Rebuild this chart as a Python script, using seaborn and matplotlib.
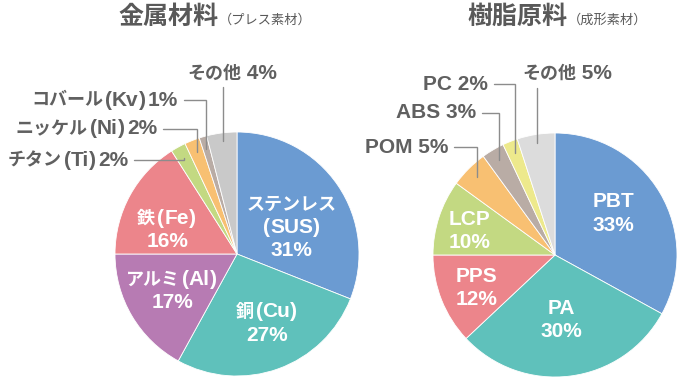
import matplotlib
matplotlib.use('Agg')
from matplotlib import pyplot as plt
from matplotlib.offsetbox import TextArea, HPacker, VPacker, AnnotationBbox, DrawingArea
import seaborn as sns
import numpy as np

sns.set_theme(style='white')
plt.rcParams['font.family'] = ['Noto Sans CJK JP', 'DejaVu Sans']

# 金属材料（プレス素材）
metal_names = ['ステンレス\n(SUS)', '銅(Cu)', 'アルミ(Al)', '鉄(Fe)',
               'チタン(Ti)', 'ニッケル(Ni)', 'コバール(Kv)', 'その他']
metal_values = [31, 27, 17, 16, 2, 2, 1, 4]
metal_colors = ['#6b9bd2', '#5fc1bb', '#b77bb3', '#ec858b',
                '#c3d982', '#f8c072', '#b9aca5', '#c9c9c9']

# 樹脂原料（成形素材）
resin_names = ['PBT', 'PA', 'PPS', 'LCP', 'POM', 'ABS', 'PC', 'その他']
resin_values = [33, 30, 12, 10, 5, 3, 2, 5]
resin_colors = ['#6b9bd2', '#5fc1bb', '#ec858b', '#c3d982',
                '#f8c072', '#b9aca5', '#ede98c', '#dcdcdc']

# label layout in pie units (radius = 1)
metal_inner_pos = [(0.45, 0.22), (0.25, -0.57), (-0.53, -0.30), (-0.57, 0.20)]
metal_outer_pos = [(-0.893, 0.77), (-0.655, 1.025), (-0.483, 1.262)]
metal_other_pos = (-0.04, 1.48)
resin_inner_pos = [(0.48, 0.34), (0.05, -0.53), (-0.64, -0.27), (-0.70, 0.20)]
resin_outer_pos = [(-0.877, 0.885), (-0.648, 1.164), (-0.549, 1.40)]
resin_other_pos = (0.098, 1.49)

W, H = 680, 377
fig = plt.figure(figsize=(W / 100, H / 100), dpi=100)

text_gray = '#606060'
line_gray = '#8c8c8c'


def rich_text(ax, s, xy, color, align=(0.5, 0.5)):
    # japanese glyphs a bit smaller than the latin ones, like the original
    lines = []
    for line in s.split('\n'):
        kids = []
        buf, kind = '', None
        chunks = []
        for ch in line:
            k = 'p' if ch in '()' else ('j' if ord(ch) >= 0x3000 else 'l')
            if k == kind and k != 'p':
                buf += ch
            else:
                if buf:
                    chunks.append((kind, buf))
                buf, kind = ch, k
        if buf:
            chunks.append((kind, buf))
        for k, t in chunks:
            if k == 'j':
                props = dict(fontsize=13, fontweight='bold', color=color, family='Noto Sans CJK JP')
            else:
                props = dict(fontsize=15, fontweight='bold', color=color, family='Liberation Sans')
            if t == '(':
                kids.append(DrawingArea(1.5, 1))
            kids.append(TextArea(t, textprops=props))
            if t == ')':
                kids.append(DrawingArea(1.5, 1))
        lines.append(HPacker(children=kids, align='baseline', pad=0, sep=0))
    box = VPacker(children=lines, align='center', pad=0, sep=3)
    ab = AnnotationBbox(box, xy, xycoords='data', frameon=False, box_alignment=align,
                        pad=0, annotation_clip=False)
    ax.add_artist(ab)


def draw_pie(cx, cy, names, values, colors, inner_pos, outer_pos, other_pos, title, sub, title_x):
    r = 122
    ax = fig.add_axes([(cx - r) / W, (H - cy - r) / H, 2 * r / W, 2 * r / H])
    wedges, _ = ax.pie(values, colors=colors, startangle=90, counterclock=False, radius=1,
                       wedgeprops=dict(edgecolor='white', linewidth=0.6))
    ax.set_xlim(-1, 1)
    ax.set_ylim(-1, 1)
    ax.axis('off')

    for i, (x, y) in enumerate(inner_pos):
        rich_text(ax, '{}\n{}%'.format(names[i], values[i]), (x, y), 'white')

    # small slices: label to the left, elbow leader line
    for k, (x, y) in enumerate(outer_pos):
        i = len(inner_pos) + k
        sep = '' if names[i].endswith(')') else ' '
        rich_text(ax, '{}{}{}%'.format(names[i], sep, values[i]), (x, y), text_gray, align=(1, 0.5))
        w = wedges[i]
        mid = np.deg2rad((w.theta1 + w.theta2) / 2)
        axx, ayy = 0.9 * np.cos(mid), 0.9 * np.sin(mid)
        ax.plot([x + 0.05, axx, axx], [y, y, ayy], color=line_gray, lw=1, clip_on=False,
                solid_joinstyle='miter')

    # その他: label above, vertical leader
    i = len(names) - 1
    w = wedges[i]
    mid = np.deg2rad((w.theta1 + w.theta2) / 2)
    axx, ayy = 0.93 * np.cos(mid), 0.93 * np.sin(mid)
    rich_text(ax, '{} {}%'.format(names[i], values[i]), other_pos, text_gray)
    ax.plot([axx, axx], [ayy, 1.365], color=line_gray, lw=1, clip_on=False)

    fig.text(title_x / W, (H - 24) / H, title, ha='right', va='baseline',
             fontsize=18, fontweight='bold', color='#595959')
    fig.text((title_x + 1) / W, (H - 24) / H, sub, ha='left', va='baseline',
             fontsize=9.5, color='#595959')


draw_pie(237, 254, metal_names, metal_values, metal_colors,
         metal_inner_pos, metal_outer_pos, metal_other_pos, '金属材料', '（プレス素材）', 218)
draw_pie(555, 255, resin_names, resin_values, resin_colors,
         resin_inner_pos, resin_outer_pos, resin_other_pos, '樹脂原料', '（成形素材）', 567)

fig.savefig('out.png', dpi=100, facecolor='white')
